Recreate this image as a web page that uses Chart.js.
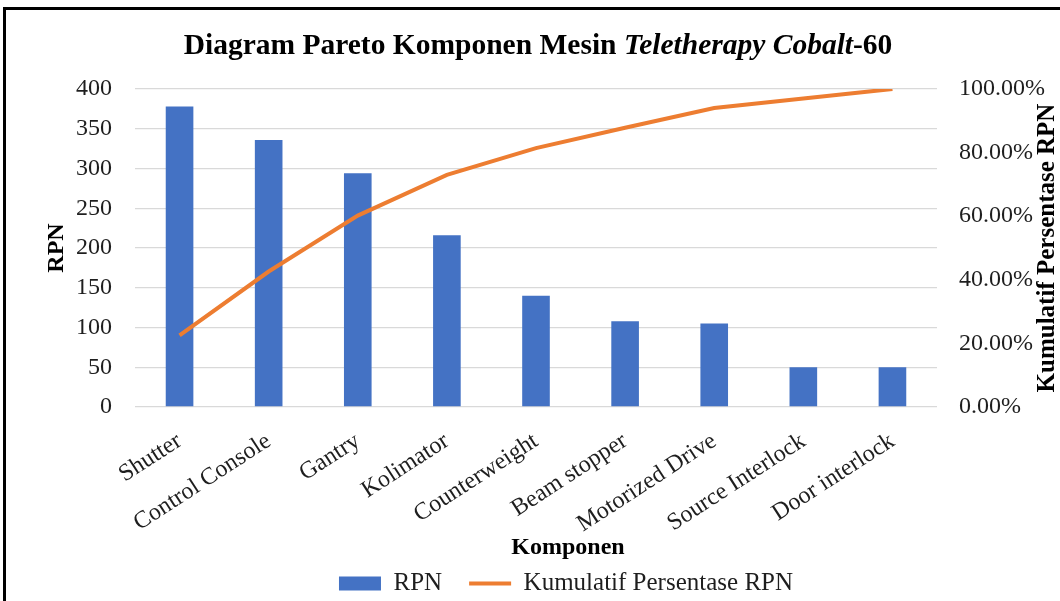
<!DOCTYPE html>
<html>
<head>
<meta charset="utf-8">
<script src="https://cdn.jsdelivr.net/npm/chart.js@4.4.1/dist/chart.umd.min.js"></script>
<style>
  html, body { margin: 0; padding: 0; background: #fff; }
  #wrap { position: relative; width: 1060px; height: 601px; }
</style>
</head>
<body>
<div id="wrap"><canvas id="paretoChart" width="1060" height="601"></canvas></div>
<script>
const komponen = ['Shutter', 'Control Console', 'Gantry', 'Kolimator', 'Counterweight',
    'Beam stopper', 'Motorized Drive', 'Source Interlock', 'Door interlock'];
const rpnValues = [378, 336, 294, 216, 140, 108, 105, 50, 50];
const kumulatifPersen = [22.5, 42.6, 60.2, 73.0, 81.4, 87.8, 94.0, 97.0, 100.0];
const rpnTicks = [0, 50, 100, 150, 200, 250, 300, 350, 400];
const persenTicks = [0, 20, 40, 60, 80, 100];

const serif = '"Liberation Serif", "Times New Roman", serif';
const textColor = '#1e1e1e';

// titles Chart.js can't do (mixed italic, right title reading upward, offset x title)
const extraText = {
    id: 'extraText',
    afterLayout(chart) {
        // legend sits a bit right of centre in the original
        chart.legend.left += 17;
        chart.legend.right += 17;
    },
    afterDraw(chart) {
        const ctx = chart.ctx;
        ctx.save();
        // frame
        ctx.strokeStyle = '#000';
        ctx.lineWidth = 3;
        ctx.beginPath();
        ctx.moveTo(4.5, 601);
        ctx.lineTo(4.5, 8.5);
        ctx.lineTo(1060, 8.5);
        ctx.stroke();

        // chart title
        const parts = [
            ['Diagram Pareto Komponen Mesin ', 'bold 29.5px ' + serif],
            ['Teletherapy Cobalt', 'italic bold 29.5px ' + serif],
            ['-60', 'bold 29.5px ' + serif]
        ];
        let total = 0;
        parts.forEach(p => { ctx.font = p[1]; total += ctx.measureText(p[0]).width; });
        let x = 538 - total / 2;
        ctx.fillStyle = '#000';
        ctx.textBaseline = 'middle';
        ctx.textAlign = 'left';
        parts.forEach(p => {
            ctx.font = p[1];
            ctx.fillText(p[0], x, 46);
            x += ctx.measureText(p[0]).width;
        });

        // x axis title
        ctx.font = 'bold 24px ' + serif;
        ctx.textAlign = 'center';
        ctx.fillText('Komponen', 568, 548);

        // right axis title
        const ca = chart.chartArea;
        ctx.font = 'bold 25px ' + serif;
        ctx.translate(1048, (ca.top + ca.bottom) / 2);
        ctx.rotate(-Math.PI / 2);
        ctx.fillText('Kumulatif Persentase RPN', 0, 0);
        ctx.restore();
    }
};

const ctx = document.getElementById('paretoChart').getContext('2d');
const paretoChart = new Chart(ctx, {
    data: {
        labels: komponen,
        datasets: [
            {
                type: 'line',
                label: 'Kumulatif Persentase RPN',
                data: kumulatifPersen,
                borderColor: '#ED7D31',
                backgroundColor: '#ED7D31',
                borderWidth: 4,
                pointRadius: 0,
                pointStyle: 'line',
                tension: 0,
                yAxisID: 'yPersen',
                order: 0
            },
            {
                type: 'bar',
                label: 'RPN',
                data: rpnValues,
                backgroundColor: '#4472C4',
                borderWidth: 0,
                pointStyle: 'rect',
                categoryPercentage: 1,
                barPercentage: 0.31,
                yAxisID: 'yRpn',
                order: 1
            }
        ]
    },
    options: {
        responsive: false,
        animation: false,
        layout: { padding: { top: 89, left: 38, right: 0, bottom: -5 } },
        plugins: {
            title: { display: false },
            tooltip: { enabled: false },
            legend: {
                position: 'bottom',
                reverse: true,
                labels: {
                    usePointStyle: true,
                    pointStyleWidth: 42,
                    boxHeight: 14,
                    padding: 27,
                    color: textColor,
                    font: { family: serif, size: 25 }
                }
            }
        },
        scales: {
            x: {
                grid: { display: false },
                border: { display: false },
                ticks: {
                    color: textColor,
                    font: { family: serif, size: 24 },
                    minRotation: 33,
                    maxRotation: 33,
                    autoSkip: false,
                    padding: 12
                },
                afterFit(scale) { scale.height = 137; }
            },
            yRpn: {
                position: 'left',
                min: 0,
                max: 400,
                afterBuildTicks(scale) { scale.ticks = rpnTicks.map(v => ({ value: v })); },
                grid: { color: '#d9d9d9', lineWidth: 1.3, drawTicks: false },
                border: { display: false },
                ticks: {
                    color: textColor,
                    padding: 23,
                    font: { family: serif, size: 24 }
                },
                title: {
                    display: true,
                    text: 'RPN',
                    color: '#000',
                    font: { family: serif, size: 24, weight: 'bold' },
                    padding: { top: 4, bottom: 0 }
                },
                afterFit(scale) { scale.width = 97; }
            },
            yPersen: {
                position: 'right',
                min: 0,
                max: 100,
                afterBuildTicks(scale) { scale.ticks = persenTicks.map(v => ({ value: v })); },
                grid: { display: false },
                border: { display: false },
                ticks: {
                    color: textColor,
                    padding: 14,
                    font: { family: serif, size: 24 },
                    callback: v => v.toFixed(2) + '%'
                },
                afterFit(scale) { scale.width = 123; }
            }
        }
    },
    plugins: [extraText]
});
</script>
</body>
</html>
